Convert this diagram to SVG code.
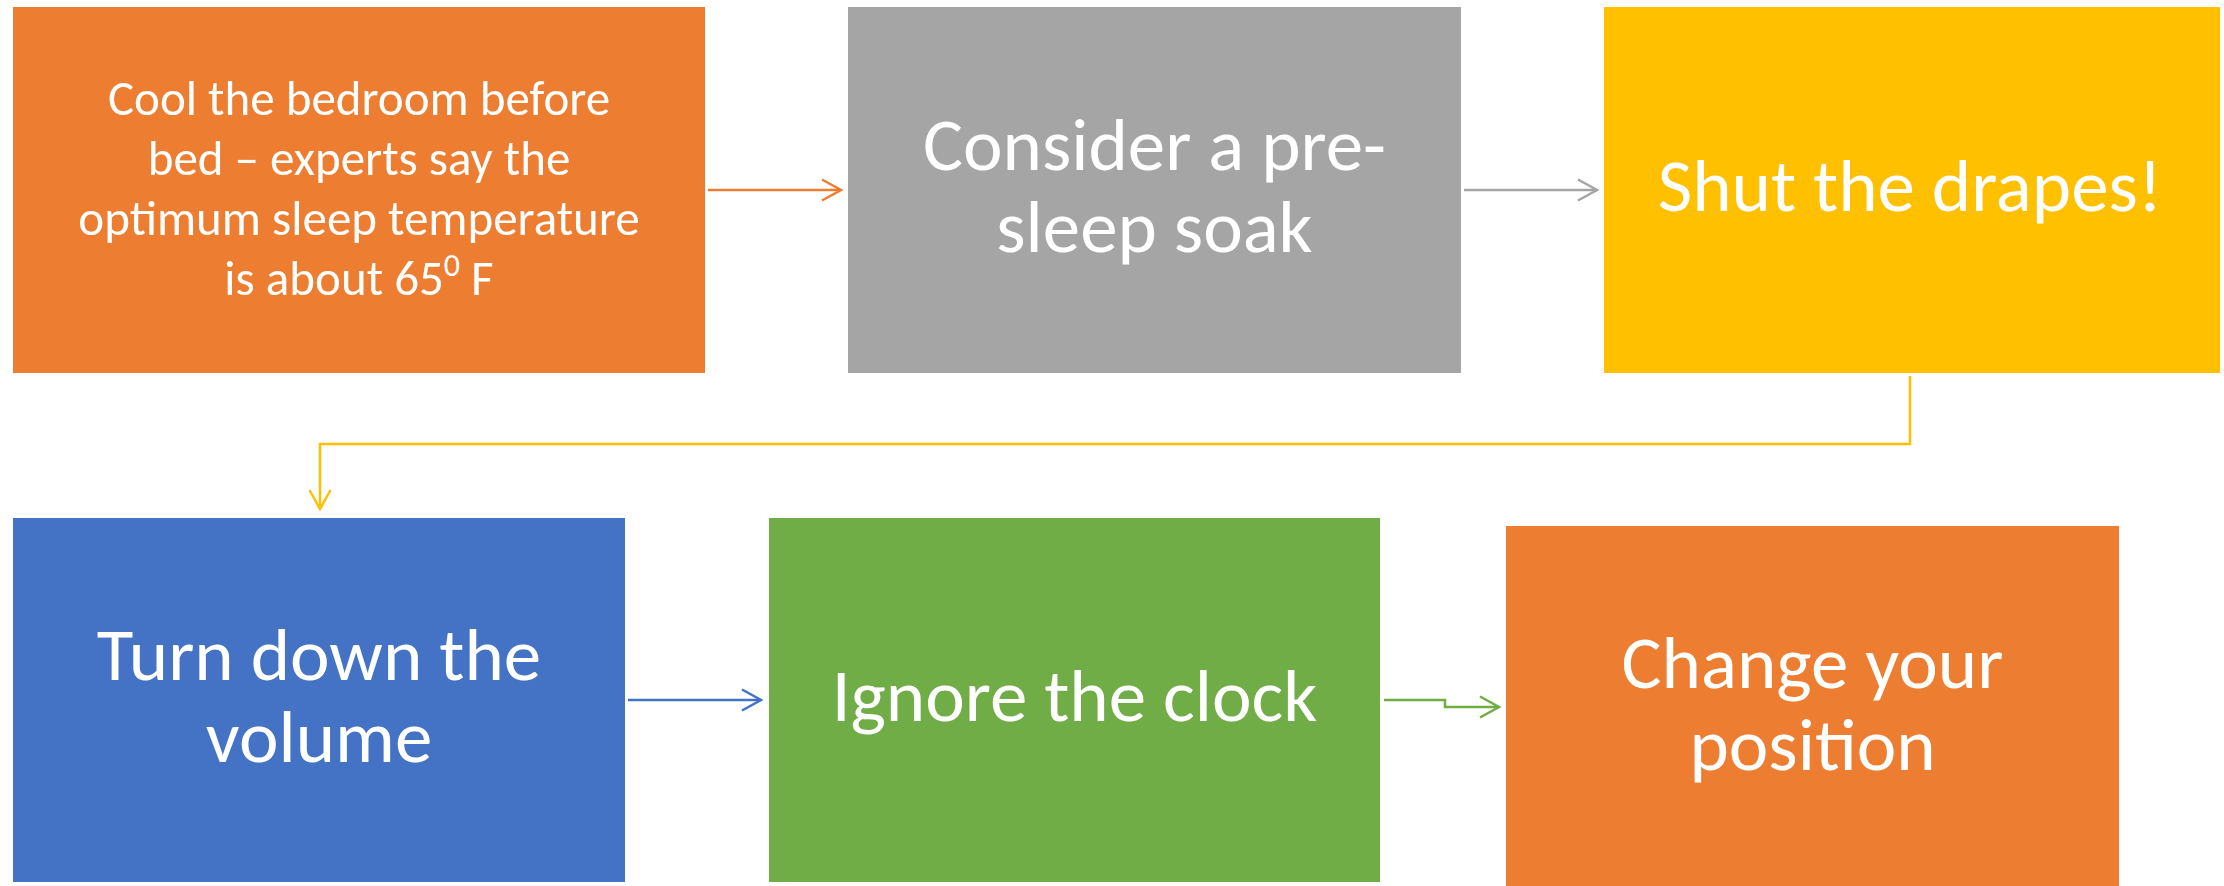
<svg xmlns="http://www.w3.org/2000/svg" width="2224" height="886" viewBox="0 0 2224 886">
<style>
.t{font-family:Carlito,Calibri,"Liberation Sans Narrow","Open Sans",sans-serif;fill:#fff;text-anchor:middle}
.big{font-size:75px}
.small{font-size:49px}
.c{fill:none;stroke-width:2.5}
</style>
<defs>
<marker id="mo" markerWidth="24" markerHeight="24" refX="20" refY="12" orient="auto" markerUnits="userSpaceOnUse"><path d="M1,1.5 L20,12 L1,22.5" fill="none" stroke="#ED7D31" stroke-width="2.5"/></marker>
<marker id="mg" markerWidth="24" markerHeight="24" refX="20" refY="12" orient="auto" markerUnits="userSpaceOnUse"><path d="M1,1.5 L20,12 L1,22.5" fill="none" stroke="#A5A5A5" stroke-width="2.5"/></marker>
<marker id="my" markerWidth="24" markerHeight="24" refX="20" refY="12" orient="auto" markerUnits="userSpaceOnUse"><path d="M1,1.5 L20,12 L1,22.5" fill="none" stroke="#FFC000" stroke-width="2.5"/></marker>
<marker id="mb" markerWidth="24" markerHeight="24" refX="20" refY="12" orient="auto" markerUnits="userSpaceOnUse"><path d="M1,1.5 L20,12 L1,22.5" fill="none" stroke="#4472C4" stroke-width="2.5"/></marker>
<marker id="mgr" markerWidth="24" markerHeight="24" refX="20" refY="12" orient="auto" markerUnits="userSpaceOnUse"><path d="M1,1.5 L20,12 L1,22.5" fill="none" stroke="#70AD47" stroke-width="2.5"/></marker>
</defs>
<rect width="2224" height="886" fill="#fff"/>
<g id="connectors">
<path class="c" stroke="#ED7D31" d="M708,190 H841" marker-end="url(#mo)"/>
<path class="c" stroke="#A5A5A5" d="M1464,190 H1597" marker-end="url(#mg)"/>
<path class="c" stroke="#FFC000" d="M1910,376 V444 H320 V509" marker-end="url(#my)"/>
<path class="c" stroke="#4472C4" d="M628,700 H761" marker-end="url(#mb)"/>
<path class="c" stroke="#70AD47" d="M1384,700 H1445 V707 H1499" marker-end="url(#mgr)"/>
</g>
<g id="node1">
<rect x="13" y="7" width="692" height="366" fill="#ED7D31"/>
<text class="t small" x="359" y="115">Cool the bedroom before</text>
<text class="t small" x="359" y="175">bed – experts say the</text>
<text class="t small" x="359" y="235">optimum sleep temperature</text>
<text class="t small" x="359" y="295">is about 65<tspan font-size="32" dy="-19">0</tspan><tspan dy="19"> F</tspan></text>
</g>
<g id="node2">
<rect x="848" y="7" width="613" height="366" fill="#A5A5A5"/>
<text class="t big" x="1154.5" y="170">Consider a pre-</text>
<text class="t big" x="1154.5" y="252">sleep soak</text>
</g>
<g id="node3">
<rect x="1604" y="7" width="616" height="366" fill="#FFC000"/>
<text class="t big" x="1910" y="211">Shut the drapes!</text>
</g>
<g id="node4">
<rect x="13" y="518" width="612" height="364" fill="#4472C4"/>
<text class="t big" x="319" y="680">Turn down the</text>
<text class="t big" x="319" y="762">volume</text>
</g>
<g id="node5">
<rect x="769" y="518" width="611" height="364" fill="#70AD47"/>
<text class="t big" x="1074.5" y="721">Ignore the clock</text>
</g>
<g id="node6">
<rect x="1506" y="526" width="613" height="360" fill="#ED7D31"/>
<text class="t big" x="1812.5" y="688">Change your</text>
<text class="t big" x="1812.5" y="770">position</text>
</g>
</svg>
